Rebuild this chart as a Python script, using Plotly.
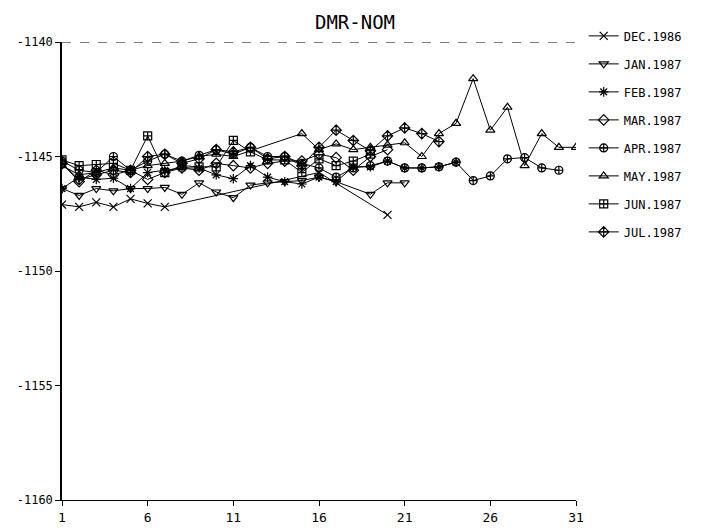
import plotly.graph_objects as go

title_text = "DMR-NOM"
x_ticks = [1, 6, 11, 16, 21, 26, 31]
y_ticks = [-1160, -1155, -1150, -1145, -1140]

dec_days = [1, 2, 3, 4, 5, 6, 7, 16, 20]
dec_vals = [-1147.1, -1147.2, -1147.0, -1147.2, -1146.85, -1147.05, -1147.2, -1145.7, -1147.55]

jan_days = [1, 2, 3, 4, 5, 6, 7, 8, 9, 10, 11, 12, 13, 14, 15, 16, 17, 19, 20, 21]
jan_vals = [-1146.4, -1146.7, -1146.4, -1146.5, -1146.4, -1146.4, -1146.35, -1146.65, -1146.15,
            -1146.55, -1146.8, -1146.25, -1146.15, -1146.1, -1146.05, -1145.9, -1146.1,
            -1146.65, -1146.15, -1146.15]

feb_days = list(range(1, 25))
feb_vals = [-1146.4, -1145.9, -1146.0, -1145.95, -1146.4, -1145.7, -1145.6, -1145.5, -1145.5,
            -1145.8, -1145.97, -1145.4, -1145.9, -1146.1, -1146.2, -1145.9, -1146.1, -1145.45,
            -1145.45, -1145.2, -1145.5, -1145.5, -1145.45, -1145.25]

mar_days = list(range(1, 21))
mar_vals = [-1145.3, -1146.1, -1145.6, -1145.8, -1145.6, -1146.0, -1145.7, -1145.5, -1145.6,
            -1145.3, -1145.4, -1145.5, -1145.3, -1145.2, -1145.2, -1144.9, -1145.05, -1145.6,
            -1145.0, -1144.7]

apr_days = list(range(1, 31))
apr_vals = [-1145.2, -1145.6, -1145.7, -1145.0, -1145.6, -1145.2, -1144.9, -1145.2, -1144.95,
            -1144.7, -1144.9, -1144.6, -1145.0, -1145.0, -1145.3, -1145.5, -1145.9, -1145.5,
            -1145.4, -1145.2, -1145.5, -1145.5, -1145.45, -1145.25, -1146.05, -1145.85,
            -1145.1, -1145.05, -1145.5, -1145.6]

may_days = [1, 2, 3, 4, 5, 6, 7, 8, 9, 10, 11, 15, 16, 17, 18, 19, 20, 21, 22, 23, 24, 25,
            26, 27, 28, 29, 30, 31]
may_vals = [-1145.4, -1145.8, -1145.7, -1145.5, -1145.6, -1145.4, -1145.3, -1145.2, -1145.0,
            -1144.9, -1145.0, -1144.0, -1144.7, -1144.45, -1144.7, -1144.6, -1144.5, -1144.4,
            -1145.0, -1144.0, -1143.55, -1141.6, -1143.85, -1142.85, -1145.4, -1144.0,
            -1144.6, -1144.6]

jun_days = list(range(1, 20))
jun_vals = [-1145.15, -1145.4, -1145.35, -1145.3, -1145.6, -1144.1, -1145.7, -1145.4, -1145.45,
            -1145.45, -1144.3, -1144.8, -1145.15, -1145.15, -1145.7, -1145.1, -1145.4,
            -1145.2, -1144.9]

jul_days = list(range(1, 24))
jul_vals = [-1145.3, -1146.0, -1145.8, -1145.6, -1145.7, -1145.0, -1144.9, -1145.3, -1145.1,
            -1144.7, -1144.8, -1144.6, -1145.1, -1145.0, -1145.4, -1144.6, -1143.85, -1144.3,
            -1144.75, -1144.1, -1143.75, -1144.0, -1144.35]

series = [
    ("DEC.1986", dec_days, dec_vals, "x-thin-open"),
    ("JAN.1987", jan_days, jan_vals, "triangle-down-open"),
    ("FEB.1987", feb_days, feb_vals, "asterisk-open"),
    ("MAR.1987", mar_days, mar_vals, "diamond-open"),
    ("APR.1987", apr_days, apr_vals, "circle-cross-open"),
    ("MAY.1987", may_days, may_vals, "triangle-up-open"),
    ("JUN.1987", jun_days, jun_vals, "square-cross-open"),
    ("JUL.1987", jul_days, jul_vals, "diamond-cross-open"),
]

FONT = "DejaVu Sans Mono"
fig = go.Figure()
for i, (name, xs, ys, sym) in enumerate(series):
    fig.add_trace(go.Scatter(
        x=xs, y=ys, name=name, mode="lines+markers",
        legendgroup=name,
        line=dict(color="black", width=1),
        marker=dict(symbol=sym, size=8, color="black", line=dict(color="black", width=1.2)),
    ))

fig.add_shape(type="line", xref="x", yref="y", x0=1, x1=31, y0=-1140, y1=-1140,
              line=dict(color="black", width=1, dash="dash"))

fig.update_layout(
    width=703, height=530,
    paper_bgcolor="white", plot_bgcolor="white",
    margin=dict(l=62, r=127, t=42, b=30, autoexpand=False),
    font=dict(family=FONT, size=12, color="black"),
    title=dict(text=title_text, xref="container", x=0.505, xanchor="center",
               y=0.958, yanchor="middle", font=dict(family=FONT, size=19, color="black")),
    showlegend=True,
    legend=dict(x=1.015, y=1.045, xanchor="left", yanchor="top",
                tracegroupgap=9, font=dict(family=FONT, size=12, color="black"),
                bgcolor="rgba(0,0,0,0)"),
    xaxis=dict(range=[1, 31], tickvals=x_ticks, ticktext=[str(v) for v in x_ticks],
               showgrid=False, zeroline=False, showline=True, linecolor="black",
               linewidth=1, ticks="outside", ticklen=5, tickcolor="black",
               tickfont=dict(family=FONT, size=13)),
    yaxis=dict(range=[-1160, -1140], tickvals=y_ticks, ticktext=[str(v) for v in y_ticks],
               showgrid=False, zeroline=False, showline=True, linecolor="black",
               linewidth=1.5, ticks="outside", ticklen=5, tickcolor="black",
               tickfont=dict(family=FONT, size=12)),
)

fig.write_html("out.html")
